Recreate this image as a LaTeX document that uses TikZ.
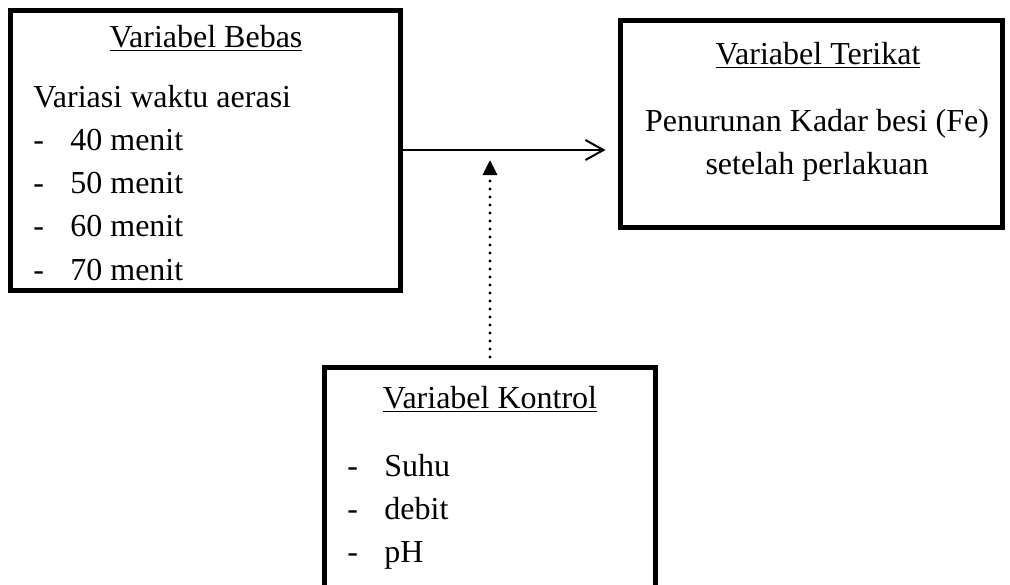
\documentclass[tikz,border=0pt]{standalone}
\usepackage{fontspec}
\setmainfont{Liberation Serif}
\usetikzlibrary{arrows.meta,positioning}
\tikzstyle{varbox} = [rectangle, draw=black, line width=2.5pt, inner sep=0pt]
\tikzstyle{vtitle} = [inner sep=0pt, anchor=base, font=\fontsize{16}{19}\selectfont]
\tikzstyle{vitem}  = [inner sep=0pt, text height=11pt, text depth=3.5pt, font=\fontsize{16}{19}\selectfont]
\tikzstyle{flow}   = [draw, line width=1pt, -{Straight Barb[length=9pt,width=10pt,line width=1pt]}]
\tikzstyle{ctrl}   = [draw, line width=1.6pt, line cap=round, dash pattern=on 0pt off 4pt, -{Triangle[length=7.5pt,width=7pt]}]
\newcommand{\itemdash}{\makebox[18.5pt][l]{-}}

\begin{document}
\begin{tikzpicture}[x=0.5pt, y=-0.5pt]
\path[use as bounding box, clip] (0,0) rectangle (1010,584);

% boxes =============================

\node[varbox, minimum width=195pt, minimum height=140pt] (bebas) at (205,150) {};
\node[varbox, minimum width=191pt, minimum height=103.5pt] (terikat) at (811,124) {};
\node[varbox, minimum width=165.5pt, minimum height=121.25pt] (kontrol) at (490,488.75) {};

% variabel bebas
\node[vtitle] (tbebas) at (206,47) {\underline{Variabel Bebas}};
\node[vitem, anchor=base west] (waktu) at (33,107) {Variasi waktu aerasi};
\node[vitem, below=6.75pt of waktu.south west, anchor=north west] (b40) {\itemdash 40 menit};
\node[vitem, below=6.75pt of b40.south west, anchor=north west] (b50) {\itemdash 50 menit};
\node[vitem, below=6.75pt of b50.south west, anchor=north west] (b60) {\itemdash 60 menit};
\node[vitem, below=6.75pt of b60.south west, anchor=north west] (b70) {\itemdash 70 menit};

% variabel terikat
\node[vtitle] (tterikat) at (818,64) {\underline{Variabel Terikat}};
\node[vitem, anchor=base] (fe) at (817,131) {Penurunan Kadar besi (Fe)};
\node[vitem, below=6.75pt of fe] (lakuan) {setelah perlakuan};

% variabel kontrol
\node[vtitle] (tkontrol) at (490,408) {\underline{Variabel Kontrol}};
\node[vitem, anchor=base west] (suhu) at (347,476) {\itemdash Suhu};
\node[vitem, below=6.75pt of suhu.south west, anchor=north west] (debit) {\itemdash debit};
\node[vitem, below=6.75pt of debit.south west, anchor=north west] (ph) {\itemdash pH};

% edges =============================

\coordinate (meet) at (490,160);
\path[flow] (bebas.east) -- (bebas.east -| terikat.west) [shorten >=6pt];
\path[ctrl, shorten <=4pt] (kontrol.north) -- (meet);

\end{tikzpicture}
\end{document}
